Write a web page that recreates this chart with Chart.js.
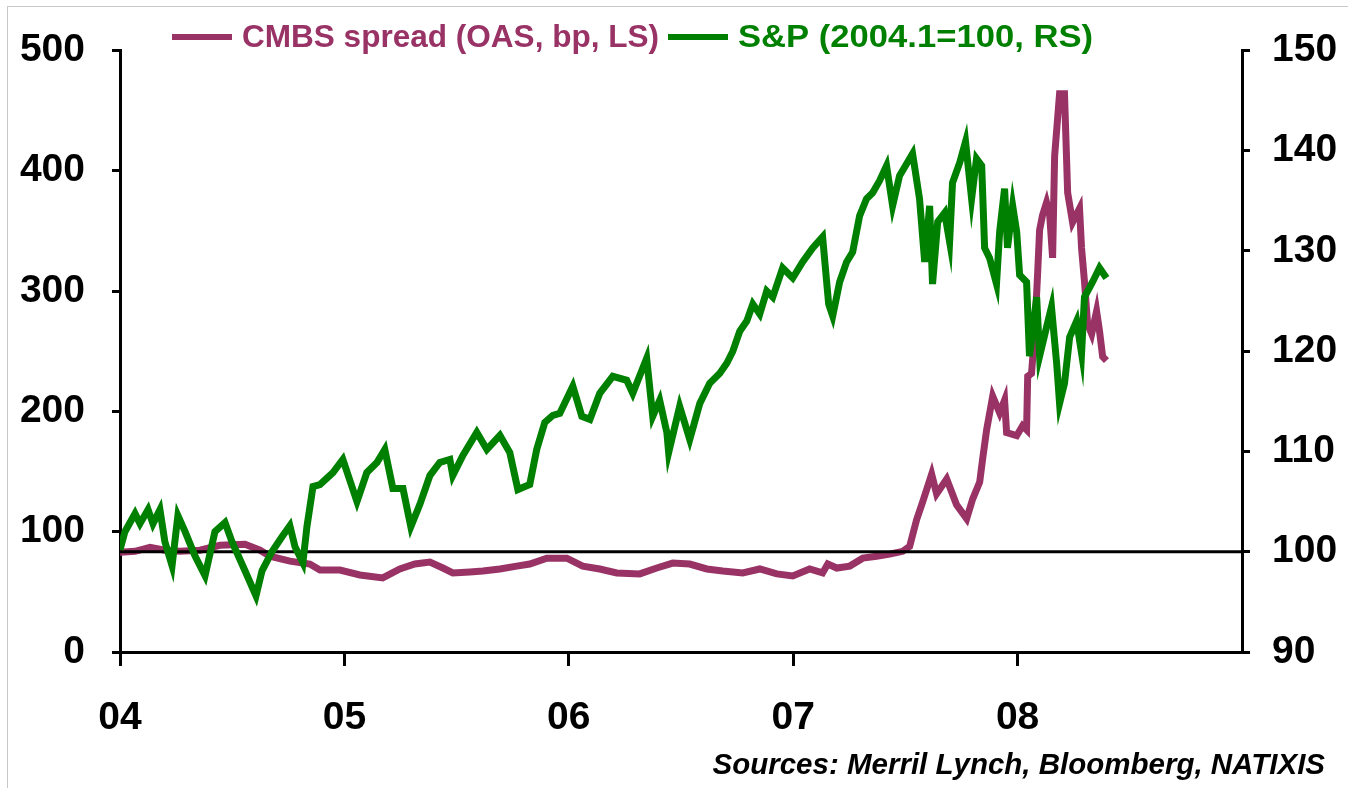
<!DOCTYPE html>
<html>
<head>
<meta charset="utf-8">
<script src="https://cdn.jsdelivr.net/npm/chart.js@4.4.1/dist/chart.umd.min.js"></script>
<style>
html, body { margin: 0; padding: 0; background: #fff; }
#wrap { position: relative; width: 1348px; height: 788px; }
</style>
</head>
<body>
<div id="wrap"><canvas id="chart" width="1348" height="788"></canvas></div>
<script>
// ---- data ----
const seriesNames = ["CMBS spread (OAS, bp, LS)", "S&P (2004.1=100, RS)"];
const sourceNote = "Sources: Merril Lynch, Bloomberg, NATIXIS";

const yearTicks = [2004, 2005, 2006, 2007, 2008];
const yearLabels = ["04", "05", "06", "07", "08"];
const leftTicks = [0, 100, 200, 300, 400, 500];
const rightTicks = [90, 100, 110, 120, 130, 140, 150];
const baseLevel = 100;   // S&P base, drawn as the black line

// CMBS spread, bp (left scale)
const cmbsYears = [2004.000,2004.067,2004.134,2004.200,2004.267,2004.356,2004.445,2004.557,2004.624,2004.668,
  2004.757,2004.846,2004.891,2004.980,2005.069,2005.171,2005.247,2005.314,2005.381,2005.439,
  2005.483,2005.559,2005.617,2005.693,2005.768,2005.826,2005.902,2005.991,2006.062,2006.138,
  2006.214,2006.316,2006.392,2006.463,2006.539,2006.615,2006.686,2006.775,2006.851,2006.927,
  2006.998,2007.073,2007.131,2007.154,2007.194,2007.252,2007.310,2007.372,2007.430,2007.488,
  2007.519,2007.550,2007.577,2007.617,2007.639,2007.684,2007.728,2007.773,2007.800,2007.831,
  2007.844,2007.862,2007.889,2007.920,2007.942,2007.951,2007.996,2008.022,2008.040,2008.045,
  2008.062,2008.076,2008.089,2008.098,2008.111,2008.129,2008.143,2008.156,2008.165,2008.187,
  2008.209,2008.223,2008.245,2008.276,2008.285,2008.298,2008.312,2008.330,2008.352,2008.365,
  2008.379,2008.396];
const cmbsSpread = [82.9,83.7,87.0,84.6,83.7,84.6,88.7,89.5,84.6,79.6,
  75.5,73.1,68.1,68.1,64.0,61.6,69.0,73.1,74.7,69.8,
  65.7,66.5,67.3,69.0,71.4,73.1,78.0,78.0,71.4,69.0,
  65.7,64.9,69.8,73.9,73.1,69.0,67.3,65.7,69.0,64.9,
  63.2,69.0,65.7,73.1,69.8,71.4,78.0,79.6,81.3,83.7,
  87.8,110.0,124.8,147.8,131.4,143.7,122.3,110.8,127.3,141.2,
  160.1,184.7,212.6,198.7,209.4,182.3,179.8,188.0,184.7,229.1,
  231.5,264.4,313.6,350.6,362.9,373.6,362.9,327.6,412.2,463.9,
  463.9,381.8,357.1,368.6,335.8,307.9,272.6,264.4,283.3,266.8,
  245.5,242.2];

// S&P index, 2004.1 = 100 (right scale)
const spYears = [2004.000,2004.022,2004.067,2004.089,2004.125,2004.147,2004.178,2004.200,2004.232,2004.258,
  2004.290,2004.334,2004.379,2004.423,2004.468,2004.499,2004.557,2004.606,2004.633,2004.677,
  2004.722,2004.757,2004.780,2004.815,2004.833,2004.860,2004.891,2004.949,2004.993,2005.056,
  2005.100,2005.145,2005.180,2005.216,2005.261,2005.296,2005.336,2005.381,2005.425,2005.470,
  2005.483,2005.528,2005.590,2005.635,2005.693,2005.737,2005.773,2005.826,2005.857,2005.893,
  2005.929,2005.960,2006.018,2006.058,2006.094,2006.138,2006.196,2006.258,2006.285,2006.347,
  2006.374,2006.405,2006.437,2006.445,2006.494,2006.539,2006.584,2006.628,2006.673,2006.704,
  2006.731,2006.762,2006.793,2006.820,2006.851,2006.882,2006.909,2006.953,2006.998,2007.042,
  2007.087,2007.131,2007.158,2007.176,2007.207,2007.238,2007.265,2007.296,2007.327,2007.354,
  2007.385,2007.416,2007.443,2007.474,2007.532,2007.563,2007.586,2007.608,2007.621,2007.644,
  2007.675,2007.697,2007.710,2007.742,2007.768,2007.795,2007.817,2007.840,2007.853,2007.875,
  2007.906,2007.920,2007.942,2007.955,2007.978,2007.996,2008.009,2008.040,2008.053,2008.067,
  2008.085,2008.098,2008.129,2008.151,2008.174,2008.187,2008.209,2008.232,2008.263,2008.285,
  2008.298,2008.334,2008.365,2008.396];
const spIndex = [100.2,102.0,103.8,102.8,104.2,102.8,104.2,101.0,98.6,103.6,
  102.0,99.6,97.6,102.0,102.9,101.0,98.1,95.6,98.1,100.0,
  101.5,102.6,100.5,98.9,102.5,106.5,106.7,107.9,109.2,105.0,
  107.9,108.9,110.2,106.3,106.3,102.5,104.7,107.6,108.9,109.2,
  107.6,109.6,111.9,110.2,111.6,109.9,106.2,106.7,110.2,112.9,
  113.6,113.8,116.5,113.5,113.2,115.8,117.5,117.1,115.8,119.3,
  113.5,115.1,111.9,109.9,114.5,111.2,114.8,116.8,117.8,118.8,
  120.0,122.0,123.0,124.7,123.7,126.0,125.4,128.3,127.3,128.9,
  130.3,131.4,124.7,123.5,126.9,128.9,129.9,133.5,135.2,135.8,
  137.0,138.5,134.5,137.5,139.7,135.2,128.9,134.5,126.7,132.9,
  133.8,130.9,136.8,138.8,140.9,135.2,139.2,138.5,130.3,129.3,
  126.7,131.9,136.2,130.3,134.5,131.9,127.6,126.9,119.5,122.0,
  125.4,119.5,122.4,124.4,118.8,114.8,116.8,121.4,123.0,119.8,
  125.4,126.9,128.3,127.3];

const cmbsColor = "#993366";
const spColor = "#008000";
const FONT = "'Liberation Sans', Arial, sans-serif";

function pairs(xs, ys) {
  return xs.map((x, i) => ({ x: x, y: ys[i] }));
}

// legend + source note + light frame
const legendSlots = [{ x: 172, w: 417 }, { x: 668, w: 355 }];
const extras = {
  id: "extras",
  beforeDraw(chart) {
    const c = chart.ctx;
    c.save();
    c.fillStyle = "#fff";
    c.fillRect(0, 0, chart.width, chart.height);
    c.strokeStyle = "#c8c8c8";
    c.lineWidth = 1;
    c.strokeRect(7.5, 6.5, chart.width + 20, chart.height + 20);
    c.restore();
  },
  afterDraw(chart) {
    const c = chart.ctx;
    c.save();
    c.font = "bold 31px " + FONT;
    c.textBaseline = "middle";
    const y = 37;
    [cmbsColor, spColor].forEach((col, i) => {
      const slot = legendSlots[i];
      c.fillStyle = col;
      c.fillRect(slot.x, y - 3, 60, 6);
      const tw = c.measureText(seriesNames[i]).width;
      c.save();
      c.translate(slot.x + 70, y + 1);
      c.scale(slot.w / tw, 1);
      c.fillText(seriesNames[i], 0, 0);
      c.restore();
    });
    c.fillStyle = "#000";
    c.font = "italic bold 29.5px " + FONT;
    c.textAlign = "right";
    c.fillText(sourceNote, 1325, 766);
    c.restore();
  }
};

const axisGrid = {
  display: true,
  drawOnChartArea: false,
  drawTicks: true,
  color: "#000",
  lineWidth: 3
};
const tickFont = { family: FONT, size: 39, weight: "bold" };

new Chart(document.getElementById("chart"), {
  type: "line",
  data: {
    datasets: [
      {
        label: seriesNames[0],
        data: pairs(cmbsYears, cmbsSpread),
        borderColor: cmbsColor,
        backgroundColor: cmbsColor,
        borderWidth: 7,
        pointRadius: 0,
        tension: 0,
        yAxisID: "y",
        order: 2
      },
      {
        label: seriesNames[1],
        data: pairs(spYears, spIndex),
        borderColor: spColor,
        backgroundColor: spColor,
        borderWidth: 7,
        pointRadius: 0,
        tension: 0,
        yAxisID: "y1",
        order: 0
      },
      {
        label: "base",
        data: [{ x: yearTicks[0], y: baseLevel }, { x: 2009, y: baseLevel }],
        borderColor: "#000",
        borderWidth: 3,
        pointRadius: 0,
        yAxisID: "y1",
        order: 1
      }
    ]
  },
  options: {
    responsive: false,
    animation: false,
    layout: { padding: { top: 43, left: 0, right: 0, bottom: 0 } },
    plugins: {
      legend: { display: false },
      tooltip: { enabled: false }
    },
    scales: {
      x: {
        type: "linear",
        min: 2004,
        max: 2009,
        afterBuildTicks: (s) => { s.ticks = yearTicks.map(v => ({ value: v })); },
        afterFit: (s) => { s.height = 136; },
        ticks: {
          font: tickFont,
          color: "#000",
          padding: 29,
          maxRotation: 0,
          callback: (v) => yearLabels[yearTicks.indexOf(v)]
        },
        grid: Object.assign({}, axisGrid, { tickLength: 14 }),
        border: { color: "#000", width: 3 }
      },
      y: {
        position: "left",
        min: 0,
        max: 500,
        afterBuildTicks: (s) => { s.ticks = leftTicks.map(v => ({ value: v })); },
        afterFit: (s) => { s.width = 120; },
        ticks: { font: tickFont, color: "#000", padding: 27 },
        grid: Object.assign({}, axisGrid, { tickLength: 8 }),
        border: { color: "#000", width: 3 }
      },
      y1: {
        position: "right",
        min: 90,
        max: 150,
        afterBuildTicks: (s) => { s.ticks = rightTicks.map(v => ({ value: v })); },
        afterFit: (s) => { s.width = 106; },
        ticks: { font: tickFont, color: "#000", padding: 22 },
        grid: Object.assign({}, axisGrid, { tickLength: 8 }),
        border: { color: "#000", width: 3 }
      }
    }
  },
  plugins: [extras]
});
</script>
</body>
</html>
